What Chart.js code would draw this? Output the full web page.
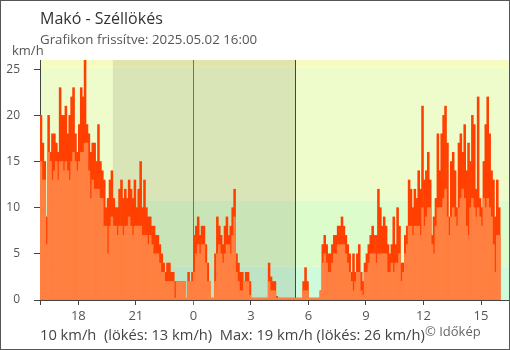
<!DOCTYPE html>
<html>
<head>
<meta charset="utf-8">
<script src="https://cdn.jsdelivr.net/npm/chart.js@4"></script>
<style>
  body { margin: 0; background: #fff; }
  #wrap { position: relative; width: 510px; height: 350px; font-family: 'Open Sans', sans-serif; }
  #c { position: absolute; left: 0; top: 0; }
  .txt { position: absolute; white-space: nowrap; line-height: 1; }
  #frame { position: absolute; left: 0; top: 0; width: 508px; height: 348px; border: 1px solid #555; pointer-events: none; }
</style>
</head>
<body>
<div id="wrap">
  <canvas id="c" width="510" height="350"></canvas>
  <div class="txt" style="left:40px; top:10px; font-size:16px; color:#333;">Makó - Széllökés</div>
  <div class="txt" style="left:40px; top:33px; font-size:13.3px; color:#555;">Grafikon frissítve: 2025.05.02 16:00</div>
  <div class="txt" style="left:12px; top:44px; font-size:13px; color:#555;">km/h</div>
  <div class="txt" style="left:40px; top:327px; font-size:14.7px; color:#444;">10 km/h&nbsp; (lökés: 13 km/h)&nbsp; Max: 19 km/h (lökés: 26 km/h)</div>
  <div class="txt" style="left:425px; top:325px; font-size:13px; color:#666;">© Időkép</div>
  <div id="frame"></div>
</div>
<script>
// 6 perces mérések 16:00-tól (240 db)
const stepHours = 0.1;

// széllökés km/h
const gust = [
  20,17,15,9,20,16,18,18,17,16,
  23,20,20,21,18,20,22,23,18,16,
  19,23,22,26,19,18,16,17,17,15,
  19,15,14,13,10,11,13,14,11,10,
  10,12,13,11,12,11,13,12,11,13,
  10,12,15,10,13,10,9,9,8,8,
  7,7,6,5,4,3,4,4,3,3,
  2,2,2,2,2,2,0.2,3,2,3,
  7,8,9,7,8,8,6,4,2,0.2,
  0.2,5,9,8,7,6,8,9,7,8,
  10,12,5,4,3,3,2,3,3,2,
  0.2,0.2,0.2,0.2,0.2,0.2,0.2,0.2,0.2,4,
  2.5,2,2,0.4,0.2,0.2,0.2,0.2,0.2,0.2,
  0.2,0.2,0.2,0.2,0.2,0.2,0.2,2,3.5,2,
  0.2,0.2,0.2,0.2,0.2,0.2,1,6,7,6,
  5,5,6,7,7,8,8,9,8,7,
  6,5,3,5,3,5,6,3,2,4,
  5,6,7,8,7,7,12,10,8,9,
  8,6,5,6,9,6,10,8,4,4,
  7,8,13,12,10,12,11,14,12,21,
  13,14,16,13,7,9,11,18,14,18,
  20,21,17,9,15,16,14,10,17,18,
  16,19,14,17,15,20,19,12,22,11,
  10,15,19,22,18,14,13,9,13,10
];

// átlagszél km/h
const wind = [
  15,13,13,6,16,15,13,14,15,13,
  15,15,14,15,14,13,15,16,15,14,
  15,16,16,17,17,14,11,13,12,12,
  12,11,11,8,8,5,8,9,8,8,
  7,8,8,7,8,8,9,8,7,8,
  8,8,8,7,7,7,6,7,6,5,
  5,5,4,3,3,2,2,2,2,2,
  0.2,2,2,2,2,2,0.2,2,2,2,
  3,5,6,5,6,6,4,2,2,0.2,
  0.2,2,5,6,5,4,5,6,6,5,
  7,9,3,2,1,1,2,2,2,0.5,
  0.2,0.2,0.2,0.2,0.2,0.2,0.2,0.2,0.2,2,
  1,1,1,0.2,0.2,0.2,0.2,0.2,0.2,0.2,
  0.2,0.2,0.2,0.2,0.2,0.2,0.2,1,1,1,
  0.2,0.2,0.2,0.2,0.2,0.2,1,4,5,4,
  3,3,4,5,5,6,6,6,6,5,
  4,3,2,1,2,3,3,1,0.5,3,
  3,4,5,5,5,4,5,5,5,5,
  5,3,3,4,3,4,4,5,2,3,
  5,6,8,8,7,8,8,8,7,10,
  8,9,10,10,6,5,8,10,10,10,
  11,12,9,7,9,10,9,8,10,11,
  12,11,8,7,10,11,10,9,10,9,
  8,11,10,11,10,9,6,3,7,7
];

// x tengely: órák 16:00-tól
const xTickHours = [0, 2, 5, 8, 11, 14, 17, 20, 23];
const xTickLabels = ['', '18', '21', '0', '3', '6', '9', '12', '15'];
const midnight = 8;
const nightStart = 3.8;   // 19:48
const nightEnd = 13.3;    // 05:18

// háttérsávok (km/h)
const bandEdges = [0, 3.6, 10.8, 25.2, 26];
const bandColors = ['#cdfbdc', '#dcfccc', '#eefccc', '#f6fcc0'];

const toPoints = arr => arr.map((v, i) => ({ x: i * stepHours + stepHours / 2, y: v }));

const bgPlugin = {
  id: 'hatter',
  beforeDraw(chart) {
    const { ctx, chartArea: a, scales: { x, y } } = chart;
    ctx.save();
    for (let k = 0; k < bandColors.length; k++) {
      const top = y.getPixelForValue(bandEdges[k + 1]);
      const bot = y.getPixelForValue(bandEdges[k]);
      ctx.fillStyle = bandColors[k];
      ctx.fillRect(a.left, top, a.right - a.left, bot - top);
    }
    const n0 = x.getPixelForValue(nightStart);
    const n1 = x.getPixelForValue(nightEnd);
    ctx.fillStyle = 'rgba(40,30,0,0.1)';
    ctx.fillRect(n0, a.top, n1 - n0, a.bottom - a.top);

    ctx.lineWidth = 1;
    ctx.strokeStyle = '#3a80c0';
    let px = Math.round(x.getPixelForValue(midnight)) + 0.5;
    ctx.beginPath(); ctx.moveTo(px, a.top); ctx.lineTo(px, a.bottom); ctx.stroke();
    ctx.strokeStyle = '#444';
    px = Math.round(n1) + 0.5;
    ctx.beginPath(); ctx.moveTo(px, a.top); ctx.lineTo(px, a.bottom); ctx.stroke();
    ctx.restore();
  }
};

Chart.defaults.font.family = "'Open Sans', sans-serif";
Chart.defaults.color = '#555';

new Chart(document.getElementById('c'), {
  type: 'bar',
  data: {
    datasets: [
      { label: 'Szél', data: toPoints(wind), backgroundColor: '#ff8040' },
      { label: 'Széllökés', data: toPoints(gust), backgroundColor: '#ff4000' }
    ]
  },
  options: {
    responsive: false,
    animation: false,
    layout: { padding: { top: 60, left: 0, right: 1, bottom: 30 } },
    datasets: {
      bar: { grouped: false, barPercentage: 1, categoryPercentage: 1, borderWidth: 0 }
    },
    plugins: { legend: { display: false }, tooltip: { enabled: false } },
    scales: {
      x: {
        type: 'linear',
        min: 0,
        max: 24.46,
        offset: false,
        afterBuildTicks: scale => { scale.ticks = xTickHours.map(v => ({ value: v })); },
        afterFit: scale => { scale.height = 20; },
        ticks: {
          autoSkip: false,
          maxRotation: 0,
          padding: 3,
          font: { size: 13 },
          color: '#555',
          callback: (v, i) => xTickLabels[i]
        },
        grid: {
          offset: false,
          drawOnChartArea: false,
          tickLength: 5,
          color: c => (c.tick && c.tick.value === midnight) ? '#3a80c0' : '#444'
        },
        border: { display: true, color: '#444' }
      },
      y: {
        min: 0,
        max: 26,
        afterFit: scale => { scale.width = 40; },
        ticks: { stepSize: 5, includeBounds: false, padding: 14, font: { size: 12 }, color: '#555' },
        grid: { drawOnChartArea: false, tickLength: 6, color: '#444' },
        border: { display: true, color: '#444' }
      }
    }
  },
  plugins: [bgPlugin]
});
</script>
</body>
</html>
